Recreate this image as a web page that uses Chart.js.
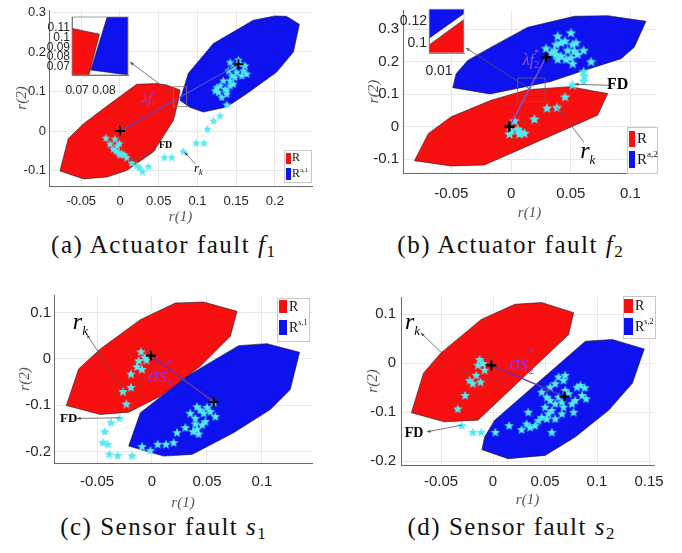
<!DOCTYPE html>
<html><head><meta charset="utf-8">
<script src="https://cdn.jsdelivr.net/npm/chart.js@4.4.1/dist/chart.umd.min.js"></script>
<style>
body{margin:0;background:#fff;width:682px;height:553px;overflow:hidden;position:relative;font-family:'Liberation Serif','DejaVu Serif',serif}
canvas{position:absolute}
.band{position:absolute;left:0;top:510px;width:682px;height:43px;background:#fff}
.cap{position:absolute;width:300px;height:30px;line-height:30px;font-size:25px;letter-spacing:1.5px;color:#111;text-align:center;white-space:nowrap}
.cap sub{font-size:17px;vertical-align:-4px;line-height:0;letter-spacing:0}
</style></head><body>
<canvas id="ca" width="341" height="228" style="left:0;top:0"></canvas>
<canvas id="cb" width="341" height="228" style="left:341px;top:0"></canvas>
<canvas id="cc" width="341" height="250" style="left:0;top:268px"></canvas>
<canvas id="cd" width="341" height="250" style="left:341px;top:268px"></canvas>
<canvas id="cia" width="96" height="86" style="left:36px;top:12px"></canvas>
<canvas id="cib" width="78" height="74" style="left:391px;top:4px"></canvas>
<div class="band"></div>
<div class="cap" style="left:13px;top:230px">(a) Actuator fault <i>f</i><sub>1</sub></div>
<div class="cap" style="left:360px;top:230px">(b) Actuator fault <i>f</i><sub>2</sub></div>
<div class="cap" style="left:13px;top:512px">(c) Sensor fault <i>s</i><sub>1</sub></div>
<div class="cap" style="left:361px;top:512px">(d) Sensor fault <i>s</i><sub>2</sub></div>
<script>
// ---------------- data ----------------
// (a) actuator fault f1
const A_XTICKS = [-0.05, 0, 0.05, 0.1, 0.15, 0.2];
const A_YTICKS = [-0.1, 0, 0.1, 0.2, 0.3];
const A_RED = [[-0.0775,-0.101],[-0.0668,-0.019],[-0.047,0.0186],[-0.0172,0.0625],[0.0215,0.118],[0.0474,0.12],[0.0603,0.1165],[0.0775,0.1038],[0.0754,0.078],[0.069,0.027],[0.043,-0.053],[0.0086,-0.0996],[-0.0172,-0.1165],[-0.047,-0.121]];
const A_BLUE = [[0.0775,0.078],[0.0883,0.146],[0.1206,0.221],[0.172,0.280],[0.200,0.291],[0.215,0.290],[0.2317,0.270],[0.224,0.200],[0.2024,0.149],[0.1637,0.0945],[0.1378,0.0608],[0.1077,0.048],[0.09,0.06]];
const A_STARS = [[-0.0181,-0.0169],[-0.0065,-0.0194],[-0.0129,-0.0321],[-0.0034,-0.0363],[-0.0086,-0.0447],[-0.0009,-0.0304],[-0.0022,-0.0532],[0.0022,-0.0557],[0.0052,-0.0591],[0.0086,-0.0658],[0.0,-0.0591],[-0.0052,-0.049],[0.0151,-0.0802],[0.0216,-0.0869],[0.025,-0.0912],[0.0289,-0.1013],[0.0366,-0.0886],[0.0573,-0.0658],[0.0668,-0.0658],[0.0819,-0.0506],[0.0983,-0.0295],[0.1086,-0.0295],[0.1129,0.0059],[0.1207,0.027],[0.1293,0.0397],[0.1379,0.0675],[0.1422,0.1747],[0.1465,0.162],[0.1509,0.1494],[0.1552,0.1705],[0.1616,0.1663],[0.1573,0.141],[0.1487,0.1367],[0.1422,0.1283],[0.1336,0.1283],[0.1293,0.1156],[0.125,0.1114],[0.1358,0.1072],[0.1271,0.0987],[0.1315,0.0861],[0.1379,0.103],[0.1422,0.1156],[0.153,0.1806],[0.1595,0.1536],[0.1401,0.1536],[0.1444,0.141],[0.1228,0.103],[0.1379,0.0945],[0.1465,0.1198],[0.1638,0.1452]];
const A_CROSS = [[0,0],[0.153,0.169]];
// inset of (a)
const IA_XTICKS = [0.07, 0.08];
const IA_YTICKS = [0.07, 0.08, 0.09, 0.1, 0.11];
const IA_RED = [[0.0675,0.1097],[0.0783,0.1035],[0.0742,0.06],[0.0675,0.06]];
const IA_BLUE = [[0.0816,0.125],[0.0895,0.125],[0.0895,0.06],[0.0890,0.0618],[0.0751,0.0669]];

// (b) actuator fault f2
const B_XTICKS = [-0.05, 0, 0.05, 0.1];
const B_YTICKS = [-0.1, 0, 0.1, 0.2, 0.3];
const B_RED = [[-0.0809,-0.104],[-0.0692,-0.0204],[-0.0502,0.0306],[-0.0167,0.0816],[0.014,0.1142],[0.0494,0.1234],[0.0809,0.102],[0.0725,0.0357],[-0.0223,-0.1173],[-0.0502,-0.1204]];
const B_BLUE = [[-0.0488,0.1204],[-0.046,0.1632],[-0.0363,0.204],[-0.0167,0.2448],[0.014,0.306],[0.053,0.3397],[0.0809,0.3417],[0.113,0.3244],[0.1032,0.2448],[0.0921,0.2091],[0.0578,0.1695],[0.0327,0.1388],[-0.0176,0.101]];
const B_STARS = [[-0.0014,-0.0204],[0.0028,0.0204],[0.0056,-0.0051],[0.0084,-0.0153],[0.0112,-0.0184],[0.007,-0.0204],[0,-0.0102],[0.0195,0.0255],[0.0301,0.0592],[0.0385,0.0612],[0.0452,0.0938],[0.0516,0.1306],[0.0608,0.1428],[0.0614,0.1581],[0.0608,0.1714],[0.0293,0.2428],[0.034,0.2295],[0.0377,0.255],[0.0391,0.2805],[0.0419,0.2601],[0.0452,0.2652],[0.0474,0.2366],[0.0502,0.2907],[0.0516,0.255],[0.053,0.2346],[0.0544,0.2601],[0.0558,0.2244],[0.0502,0.2142],[0.0516,0.1958],[0.046,0.2091],[0.0419,0.2193],[0.0377,0.2244],[0.0391,0.2091],[0.0608,0.2366],[0.067,0.202],[0.0363,0.2366]];
const B_CROSS = [[-0.0014,0],[0.0293,0.214]];
// inset of (b)
const IB_XTICKS = [0.01];
const IB_YTICKS = [0.1, 0.12];
const IB_BLUE = [[0.0061,0.1307],[0.0201,0.1307],[0.0201,0.1271],[0.0061,0.1044]];
const IB_RED = [[0.0061,0.0983],[0.0201,0.1216],[0.0201,0.0907],[0.0061,0.0907]];

// (c) sensor fault s1
const C_XTICKS = [-0.05, 0, 0.05, 0.1];
const C_YTICKS = [-0.2, -0.1, 0, 0.1];
const C_RED = [[-0.0779,-0.1005],[-0.0667,-0.0215],[-0.047,0.0215],[-0.0106,0.0847],[0.0212,0.1206],[0.047,0.1228],[0.0773,0.1027],[0.0712,0.0488],[0.0439,-0.0158],[0.0076,-0.0804],[-0.0212,-0.1149],[-0.047,-0.1199]];
const C_BLUE = [[-0.0212,-0.1881],[-0.0106,-0.1163],[0.0318,-0.0373],[0.0788,0.0287],[0.1045,0.033],[0.1342,0.0144],[0.1257,-0.0661],[0.1076,-0.1091],[0.0742,-0.1594],[0.0364,-0.2061],[0.0106,-0.2097]];
const C_STARS = [[-0.01,0.0165],[-0.0061,0.0043],[-0.0121,-0.0029],[-0.0052,-0.0014],[-0.0136,-0.0158],[-0.0091,-0.0215],[-0.0191,-0.0316],[-0.0191,-0.0603],[-0.0264,-0.0696],[-0.0233,-0.0962],[-0.0294,-0.1271],[-0.0373,-0.1364],[-0.043,-0.1558],[-0.0448,-0.1795],[-0.0403,-0.1831],[-0.0388,-0.2046],[-0.0312,-0.2075],[-0.0182,-0.2082],[-0.0091,-0.1881],[-0.0015,-0.1967],[0.0052,-0.1831],[0.0127,-0.1831],[0.0197,-0.1795],[0.0227,-0.158],[0.0303,-0.1472],[0.0373,-0.1558],[0.0409,-0.1508],[0.0424,-0.1608],[0.0348,-0.1163],[0.0394,-0.1271],[0.0409,-0.102],[0.0439,-0.1091],[0.047,-0.1163],[0.0485,-0.1343],[0.05,-0.1034],[0.053,-0.1127],[0.0561,-0.0933],[0.0576,-0.1235],[0.0455,-0.1414],[0.0394,-0.1393]];
const C_CROSS = [[-0.0009,0.0072],[0.0561,-0.0926]];

// (d) sensor fault s2
const D_XTICKS = [-0.05, 0, 0.05, 0.1, 0.15];
const D_YTICKS = [-0.2, -0.1, 0, 0.1];
const D_RED = [[-0.0785,-0.1014],[-0.0669,-0.0206],[-0.0501,0.0206],[-0.0113,0.089],[0.021,0.1199],[0.0468,0.1233],[0.0775,0.1028],[0.0727,0.0582],[-0.0145,-0.1165],[-0.0468,-0.1199]];
const D_BLUE = [[-0.0107,-0.1767],[-0.0081,-0.1507],[0.0016,-0.1165],[0.0888,0.0445],[0.1147,0.048],[0.1454,0.0288],[0.134,-0.0411],[0.1114,-0.0959],[0.0791,-0.1507],[0.0501,-0.1884],[0.0145,-0.1952]];
const D_STARS = [[-0.0129,0.0082],[-0.0145,-0.0034],[-0.0081,-0.0137],[-0.0162,-0.024],[-0.0226,-0.0343],[-0.0194,-0.0411],[-0.012,-0.0377],[-0.0097,0],[-0.0268,-0.0651],[-0.0339,-0.0925],[-0.03,-0.1267],[-0.0194,-0.1404],[-0.0113,-0.1404],[0.0023,-0.1404],[0.0155,-0.1267],[0.0275,-0.1349],[0.0339,-0.0993],[0.0323,-0.1233],[0.0355,-0.1302],[0.0404,-0.1267],[0.0436,-0.1165],[0.0468,-0.1096],[0.0517,-0.113],[0.0565,-0.1404],[0.0533,-0.1028],[0.0565,-0.0959],[0.0501,-0.0891],[0.0549,-0.0754],[0.0598,-0.0822],[0.063,-0.0685],[0.0662,-0.0788],[0.0678,-0.0891],[0.0694,-0.0548],[0.0727,-0.0617],[0.0759,-0.0822],[0.0775,-0.0993],[0.0791,-0.0754],[0.0808,-0.048],[0.084,-0.0445],[0.0856,-0.0651],[0.0882,-0.0493],[0.0895,-0.0719],[0.063,-0.0274],[0.0678,-0.0343],[0.0694,-0.024],[0.0598,-0.0411],[0.0549,-0.048],[0.0517,-0.0685],[0.0468,-0.0582],[0.0662,-0.1028],[0.0598,-0.113]];
const D_CROSS = [[-0.0016,-0.0048],[0.0688,-0.0685]];

// ---------------- styling / helpers ----------------
const SANS = "'Liberation Sans Narrow','Liberation Sans',Arial,sans-serif";
const SERIF = "'Liberation Serif','DejaVu Serif',serif";
const RED = '#f81010', BLUE = '#0d12ee', CYAN = '#52eaf4';
const GRAY = '#555';

function makeStar(d){
  const c = document.createElement('canvas'); c.width = d; c.height = d;
  const g = c.getContext('2d'); const R = d/2, r = R*0.45;
  g.beginPath();
  for (let i = 0; i < 10; i++){
    const a = -Math.PI/2 + i*Math.PI/5, rad = (i % 2) ? r : R;
    g.lineTo(R + rad*Math.cos(a), R + 0.08*d + rad*Math.sin(a));
  }
  g.closePath(); g.fillStyle = CYAN; g.fill();
  return c;
}
const toXY = arr => arr.map(p => ({x:p[0], y:p[1]}));
function poly(arr, color, order){
  const d = toXY(arr); d.push({x:arr[0][0], y:arr[0][1]});
  return {type:'line', data:d, fill:'shape', backgroundColor:color, borderColor:'#1a1a1a', borderWidth:0.6, pointRadius:0, tension:0, order};
}
function stars(arr, size, order){
  return {type:'scatter', data:toXY(arr), pointStyle:makeStar(size), pointRadius:5, order};
}
function crosses(arr, r, w){
  return {type:'scatter', data:toXY(arr), pointStyle:'cross', pointRadius:r, borderColor:'#000', borderWidth:w, order:0};
}
function vector(arr, color, w){
  return {type:'line', data:toXY(arr), borderColor:color, borderWidth:w, pointRadius:0, fill:false, order:1};
}

function richWidth(ctx, parts){
  let cur = 0, prev = 0; const pos = [];
  parts.forEach(p => { ctx.font = p.f; const w = ctx.measureText(p.t).width; const sx = p.over ? prev : cur; pos.push(sx); prev = sx; cur = Math.max(cur, sx + w); });
  return {w:cur, pos};
}
function drawRich(ctx, x, y, parts, color, align){
  const m = richWidth(ctx, parts);
  const x0 = align === 'left' ? x : x - m.w/2;
  ctx.fillStyle = color; ctx.textBaseline = 'middle'; ctx.textAlign = 'left';
  parts.forEach((p, i) => { ctx.font = p.f; ctx.fillText(p.t, x0 + m.pos[i], y + (p.dy || 0)); });
}
function arrowHead(ctx, x1, y1, x2, y2, s){
  const a = Math.atan2(y2 - y1, x2 - x1);
  ctx.beginPath(); ctx.moveTo(x2, y2);
  ctx.lineTo(x2 - s*Math.cos(a - 0.4), y2 - s*Math.sin(a - 0.4));
  ctx.lineTo(x2 - s*Math.cos(a + 0.4), y2 - s*Math.sin(a + 0.4));
  ctx.closePath(); ctx.fill();
}
const notesPlugin = {
  id:'notes',
  afterDatasetsDraw(chart){
    const items = (chart.options.plugins.notes || {}).items || [];
    const ctx = chart.ctx, xs = chart.scales.x, ys = chart.scales.y;
    const P = p => Array.isArray(p) ? [xs.getPixelForValue(p[0]), ys.getPixelForValue(p[1])] : p.px;
    ctx.save();
    items.forEach(it => {
      if (it.type === 'rect'){
        const a = P(it.a), b = P(it.b);
        ctx.strokeStyle = it.color || '#666'; ctx.lineWidth = 0.8;
        ctx.strokeRect(a[0], a[1], b[0]-a[0], b[1]-a[1]);
      } else if (it.type === 'frame'){
        const ca = chart.chartArea; ctx.strokeStyle = it.color; ctx.lineWidth = 0.8;
        ctx.strokeRect(ca.left, ca.top, ca.right-ca.left, ca.bottom-ca.top);
      } else if (it.type === 'arrow'){
        const a = P(it.from), b = P(it.to);
        ctx.strokeStyle = it.color || GRAY; ctx.fillStyle = it.color || GRAY; ctx.lineWidth = it.w || 0.8;
        ctx.beginPath(); ctx.moveTo(a[0], a[1]); ctx.lineTo(b[0], b[1]); ctx.stroke();
        if (it.head) arrowHead(ctx, a[0], a[1], b[0], b[1], it.head);
      } else if (it.type === 'text'){
        const a = P(it.at); drawRich(ctx, a[0], a[1], it.parts, it.color || '#000', it.align);
      } else if (it.type === 'legend'){
        const [x, y, w, h] = it.box;
        ctx.fillStyle = '#fff'; ctx.fillRect(x, y, w, h);
        ctx.strokeStyle = '#c8c8c8'; ctx.lineWidth = 1; ctx.strokeRect(x + 0.5, y + 0.5, w, h);
        it.rows.forEach(r => {
          ctx.fillStyle = r.color; ctx.fillRect(r.sw[0], r.sw[1], r.sw[2], r.sw[3]);
          drawRich(ctx, r.at[0], r.at[1], r.parts, '#111', 'left');
        });
      }
    });
    ctx.restore();
  }
};

function fixX(h){ return s => { s.height = h; s.paddingLeft = 0; s.paddingRight = 0; }; }
function fixY(w){ return s => { s.width = w; s.paddingTop = 0; s.paddingBottom = 0; }; }

function makeChart(id, sp){
  const axis = (ticks, range, fit, tp, title, font) => ({
    type:'linear', min:range[0], max:range[1],
    afterBuildTicks: s => { s.ticks = ticks.map(v => ({value:v})); },
    afterFit: fit,
    ticks:{font:{family:SANS, size:font}, color:'#262626', padding:tp, maxRotation:0, autoSkip:false, callback: v => String(v)},
    grid:{display: sp.grid !== false, color:'#e8e8e8', drawTicks:false},
    border:{color:'#6a6a6a', width:1},
    title: title ? {display:true, text:title, padding:0, color:'#555', font:{family:SERIF, size:15, style:'italic'}} : {display:false}
  });
  return new Chart(document.getElementById(id), {
    type:'scatter',
    data:{datasets: sp.datasets},
    options:{
      responsive:false, animation:false, events:[],
      layout:{padding: sp.pad},
      plugins:{legend:{display:false}, tooltip:{enabled:false}, notes:{items: sp.notes}},
      scales:{
        x: axis(sp.xt, sp.xr, fixX(sp.xh), sp.xtp, sp.xtitle, sp.fs),
        y: axis(sp.yt, sp.yr, fixY(sp.yw), sp.ytp, sp.ytitle, sp.fs)
      }
    },
    plugins:[notesPlugin]
  });
}
const it = (t, size, extra) => Object.assign({t, f:(extra && extra.b ? 'bold ' : '') + (extra && extra.i ? 'italic ' : '') + size + 'px ' + SERIF}, extra || {});

// ---------------- (a) ----------------
makeChart('ca', {
  xr:[-0.0917, 0.248], yr:[-0.139, 0.306], xt:A_XTICKS, yt:A_YTICKS,
  pad:{left:13, right:29, top:10, bottom:2}, xh:40, yw:36, xtp:8, ytp:3, fs:13,
  xtitle:'r(1)', ytitle:'r(2)',
  datasets:[crosses(A_CROSS, 5, 2), vector(A_CROSS, '#5b47cf', 1.2), stars(A_STARS, 9, 2), poly(A_RED, RED, 3), poly(A_BLUE, BLUE, 4)],
  notes:[
    {type:'rect', a:[0.0689,0.112], b:[0.0861,0.0615], color:'#777'},
    {type:'arrow', from:[0.071,0.09], to:{px:[130,62]}, head:4},
    {type:'arrow', from:[0.0466,-0.0473], to:[0.0135,-0.075], head:4},
    {type:'text', at:[0.059,-0.036], parts:[it('FD', 10, {b:true})]},
    {type:'arrow', from:[0.097,-0.0827], to:[0.0835,-0.0535], head:4},
    {type:'text', at:[0.1012,-0.0954], parts:[it('r', 13, {i:true}), it('k', 8, {i:true, dy:4})]},
    {type:'text', at:[0.037,0.079], color:'#a23ce6', parts:[it('λ', 13, {i:true}), it('f', 13, {i:true}), it('1', 8, {dy:4}), it('*', 8, {over:true, dy:-5})]},
    {type:'legend', box:[284,150,27,32], rows:[
      {color:RED, sw:[286,153,5,11], at:[292,158], parts:[it('R', 12)]},
      {color:BLUE, sw:[286,168,5,12], at:[292,174], parts:[it('R', 12), it('a,1', 7, {dy:-4})]}
    ]}
  ]
});
// inset (a)
makeChart('cia', {
  xr:[0.0681, 0.0889], yr:[0.0618, 0.121], xt:IA_XTICKS, yt:IA_YTICKS,
  pad:{left:0, right:4, top:5, bottom:0}, xh:23, yw:36, xtp:8, ytp:2, fs:12, grid:false,
  datasets:[poly(IA_RED, RED, 3), poly(IA_BLUE, BLUE, 4)],
  notes:[{type:'frame', color:'#888'}]
});

// ---------------- (b) ----------------
makeChart('cb', {
  xr:[-0.0905, 0.1214], yr:[-0.142, 0.359], xt:B_XTICKS, yt:B_YTICKS,
  pad:{left:24, right:26, top:10, bottom:6}, xh:49, yw:38, xtp:12, ytp:4, fs:15,
  xtitle:'r(1)', ytitle:'r(2)',
  datasets:[crosses(B_CROSS, 5, 2.5), vector(B_CROSS, '#7b4fd8', 1.5), stars(B_STARS, 11, 2), poly(B_RED, RED, 3), poly(B_BLUE, BLUE, 4)],
  notes:[
    {type:'rect', a:[0.0056,0.15], b:[0.0285,0.0785], color:'#666'},
    {type:'arrow', from:[0.0153,0.117], to:{px:[125,48]}, head:4},
    {type:'arrow', from:[0.0823,0.1275], to:[0.0535,0.1306], head:4},
    {type:'text', at:[0.0893,0.1275], parts:[it('FD', 16, {b:true})]},
    {type:'arrow', from:[0.0608,-0.0459], to:[0.0385,0.0592], head:0},
    {type:'text', at:[0.0642,-0.0765], parts:[it('r', 24, {i:true}), it('k', 13, {i:true, dy:9})]},
    {type:'text', at:[0.0167,0.204], color:'rgba(175,95,235,0.85)', parts:[it('λ', 16, {i:true}), it('f', 16, {i:true}), it('2', 10, {dy:5}), it('*', 10, {over:true, dy:-7})]},
    {type:'legend', box:[286,127,30,46], rows:[
      {color:RED, sw:[288,131,6,16], at:[296,139], parts:[it('R', 15)]},
      {color:BLUE, sw:[288,151,6,17], at:[296,160], parts:[it('R', 15), it('a,2', 9, {dy:-5})]}
    ]}
  ]
});
// inset (b)
makeChart('cib', {
  xr:[0.006, 0.020], yr:[0.0909, 0.131], xt:IB_XTICKS, yt:IB_YTICKS,
  pad:{left:0, right:5, top:5, bottom:0}, xh:25, yw:38, xtp:10, ytp:2, fs:14, grid:false,
  datasets:[poly(IB_RED, RED, 3), poly(IB_BLUE, BLUE, 4)],
  notes:[{type:'frame', color:'#ccc'}]
});

// ---------------- (c) ----------------
makeChart('cc', {
  xr:[-0.0891, 0.1455], yr:[-0.2246, 0.138], xt:C_XTICKS, yt:C_YTICKS,
  pad:{left:16, right:29, top:27, bottom:6}, xh:49, yw:38, xtp:10, ytp:3, fs:15,
  xtitle:'r(1)', ytitle:'r(2)',
  datasets:[crosses(C_CROSS, 5, 2.2), vector(C_CROSS, '#6a2fb0', 1.4), stars(C_STARS, 10, 2), poly(C_RED, RED, 3), poly(C_BLUE, BLUE, 4)],
  notes:[
    {type:'arrow', from:[-0.0264,-0.0675], to:[-0.0591,0.0524], head:4},
    {type:'text', at:[-0.0651,0.0775], parts:[it('r', 24, {i:true}), it('k', 13, {i:true, dy:9})]},
    {type:'arrow', from:[-0.0294,-0.1271], to:[-0.0682,-0.1285], head:4},
    {type:'text', at:[-0.0758,-0.1285], parts:[it('FD', 13, {b:true})]},
    {type:'arrow', from:[0.05,-0.082], to:[0.0561,-0.0926], head:5, color:'#6a2fb0'},
    {type:'text', at:[0.0075,-0.037], color:'#9030f0', parts:[it('σ', 22, {i:true}), it('s', 22, {i:true}), it('1', 11, {dy:7}), it('*', 11, {over:true, dy:-12})]},
    {type:'legend', box:[277,30,32,43], rows:[
      {color:RED, sw:[279,32,8,13], at:[289,39], parts:[it('R', 14)]},
      {color:BLUE, sw:[279,52,8,15], at:[289,60], parts:[it('R', 14), it('s,1', 8, {dy:-5})]}
    ]}
  ]
});

// ---------------- (d) ----------------
makeChart('cd', {
  xr:[-0.0885, 0.1548], yr:[-0.208, 0.1347], xt:D_XTICKS, yt:D_YTICKS,
  pad:{left:23, right:28, top:29, bottom:9}, xh:44, yw:37, xtp:8, ytp:5, fs:15,
  xtitle:'r(1)', ytitle:'r(2)',
  datasets:[crosses(D_CROSS, 5, 2.2), vector(D_CROSS, '#6a2fb0', 1.4), stars(D_STARS, 10, 2), poly(D_RED, RED, 3), poly(D_BLUE, BLUE, 4)],
  notes:[
    {type:'arrow', from:[-0.0226,-0.0343], to:[-0.0694,0.0617], head:4},
    {type:'text', at:[-0.0775,0.0822], parts:[it('r', 24, {i:true}), it('k', 13, {i:true, dy:9})]},
    {type:'arrow', from:[-0.03,-0.1267], to:[-0.0636,-0.1404], head:4},
    {type:'text', at:[-0.0759,-0.1439], parts:[it('FD', 14, {b:true})]},
    {type:'text', at:[0.0275,-0.002], color:'#9030f0', parts:[it('σ', 22, {i:true}), it('s', 22, {i:true}), it('2', 11, {dy:7}), it('*', 11, {over:true, dy:-12})]},
    {type:'legend', box:[282,28,32,42], rows:[
      {color:RED, sw:[283,31,9,14], at:[294,38], parts:[it('R', 14)]},
      {color:BLUE, sw:[283,50,9,17], at:[294,59], parts:[it('R', 14), it('s,2', 8, {dy:-5})]}
    ]}
  ]
});
</script>
</body></html>
